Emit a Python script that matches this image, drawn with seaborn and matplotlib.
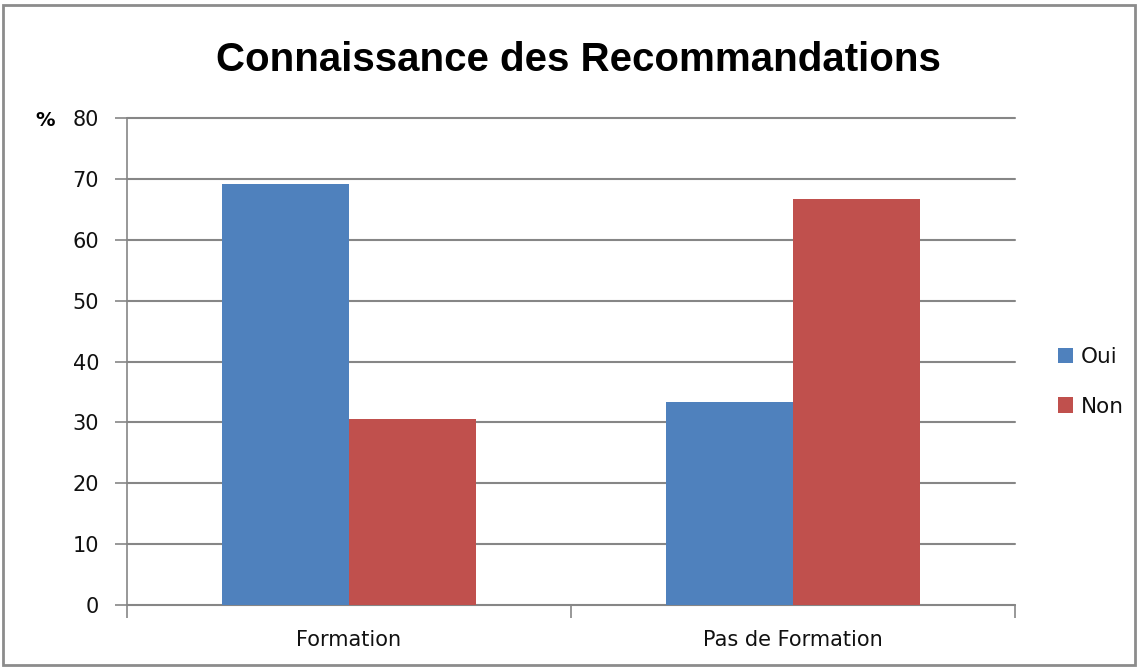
import matplotlib
matplotlib.use("Agg")
import matplotlib.pyplot as plt
import matplotlib.patches as mpatches
from matplotlib.ticker import FixedLocator
import pandas as pd
import seaborn as sns

# data
categories = ["Formation", "Pas de Formation"]
series = ["Oui", "Non"]
oui_values = [69.2, 33.3]
non_values = [30.5, 66.7]
yticks = [0, 10, 20, 30, 40, 50, 60, 70, 80]

colors = {"Oui": "#4F81BD", "Non": "#C0504D"}
grid_col = "#868686"

df = pd.DataFrame({
    "cat": categories * 2,
    "serie": ["Oui"] * len(categories) + ["Non"] * len(categories),
    "val": oui_values + non_values,
})

sns.set_theme(style="white")
plt.rcParams['font.family'] = ['DejaVu Sans']

fig = plt.figure(figsize=(11.38, 6.68), dpi=100)
ax = fig.add_axes([127 / 1138, 63 / 668, 888 / 1138, 487 / 668])

sns.barplot(data=df, x="cat", y="val", hue="serie", hue_order=series,
            palette=colors, width=0.572, gap=0, saturation=1,
            edgecolor="none", linewidth=0, ax=ax, legend=False, zorder=3)

ax.set_xlim(-0.5, 1.5)
ax.set_ylim(0, 80)
ax.set_yticks(yticks)
ax.yaxis.grid(True, color=grid_col, linewidth=1.5, zorder=0)
for gl in ax.get_ygridlines():
    gl.set_clip_on(False)
ax.set_axisbelow(True)
ax.set_xlabel("")
ax.set_ylabel("")

for side in ["top", "right"]:
    ax.spines[side].set_visible(False)
for side in ["left", "bottom"]:
    ax.spines[side].set_color(grid_col)
    ax.spines[side].set_linewidth(1.2)

ax.tick_params(axis="y", length=9, width=1.2, color=grid_col, labelsize=15,
               labelcolor="#111111", pad=11, left=True)
ax.tick_params(axis="x", which="major", length=0, labelsize=15,
               labelcolor="#111111", pad=18)
ax.xaxis.set_minor_locator(FixedLocator([-0.5, 0.5, 1.5]))
ax.tick_params(axis="x", which="minor", length=9, width=1.2, color=grid_col,
               bottom=True)

# legend
handles = [mpatches.Patch(facecolor=colors[s], edgecolor="none", label=s) for s in series]
fig.legend(handles=handles, loc="center left", bbox_to_anchor=(1039 / 1138, 1 - 382 / 668),
           frameon=False, fontsize=15.5, handlelength=0.7, handleheight=0.7,
           handletextpad=0.35, labelspacing=1.35, labelcolor="#111111")

fig.text(578 / 1138, 1 - 60 / 668, "Connaissance des Recommandations",
         ha="center", va="center", fontsize=29, fontweight="bold", color="black",
         family=["Liberation Sans Narrow", "Liberation Sans", "DejaVu Sans"])
fig.text(45 / 1138, 1 - 121 / 668, "%", ha="center", va="center",
         fontsize=14, fontweight="bold", color="black")

# outer chart border
fig.patches.append(mpatches.Rectangle((3 / 1138, 3 / 668), 1132 / 1138, 660 / 668,
                                      transform=fig.transFigure, fill=False,
                                      edgecolor="#8c8c8c", linewidth=2))

fig.savefig("out.png", dpi=100)
